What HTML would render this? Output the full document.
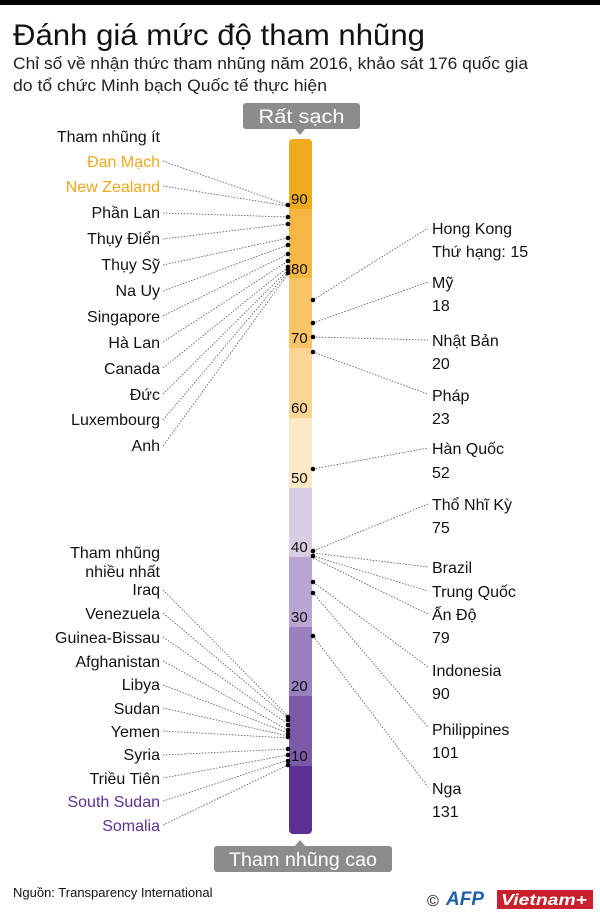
<!DOCTYPE html>
<html><head><meta charset="utf-8"><style>
body{margin:0;background:#fff}
svg{display:block;font-family:"Liberation Sans",sans-serif}
</style></head><body>
<svg width="600" height="918" viewBox="0 0 600 918">
<rect x="0" y="0" width="600" height="5" fill="#000"/>
<text x="13" y="45" font-size="30" fill="#111" textLength="412" lengthAdjust="spacingAndGlyphs">Đánh giá mức độ tham nhũng</text>
<text x="13" y="69" font-size="17" fill="#222" textLength="515" lengthAdjust="spacingAndGlyphs">Chỉ số về nhận thức tham nhũng năm 2016, khảo sát 176 quốc gia</text>
<text x="13" y="91" font-size="17" fill="#222" textLength="314" lengthAdjust="spacingAndGlyphs">do tổ chức Minh bạch Quốc tế thực hiện</text>

<rect x="243" y="103" width="117" height="26" rx="3" fill="#8b8c8e"/>
<polygon points="295,129 305,129 300,135" fill="#8b8c8e"/>
<text x="301.5" y="123" font-size="19" fill="#fff" text-anchor="middle" textLength="86" lengthAdjust="spacingAndGlyphs">Rất sạch</text>

<rect x="289" y="139" width="23" height="80" rx="4" fill="#f0aa1e"/>
<rect x="289" y="209" width="23" height="69" fill="#f5b744"/>
<rect x="289" y="278" width="23" height="70" fill="#f8c466"/>
<rect x="289" y="348" width="23" height="70" fill="#fad594"/>
<rect x="289" y="418" width="23" height="70" fill="#fde8c6"/>
<rect x="289" y="488" width="23" height="69" fill="#d9cde4"/>
<rect x="289" y="557" width="23" height="70" fill="#b9a4d2"/>
<rect x="289" y="627" width="23" height="69" fill="#9a80bf"/>
<rect x="289" y="696" width="23" height="70" fill="#7d5aa9"/>
<rect x="289" y="766" width="23" height="68" rx="4" fill="#5d3192"/>
<rect x="289" y="766" width="23" height="20" fill="#5d3192"/>
<g font-size="15" fill="#111">
<text x="291" y="204">90</text><text x="291" y="274">80</text><text x="291" y="343">70</text>
<text x="291" y="413">60</text><text x="291" y="483">50</text><text x="291" y="552">40</text>
<text x="291" y="622">30</text><text x="291" y="691">20</text><text x="291" y="761">10</text>
</g>

<rect x="214" y="846" width="178" height="26" rx="3" fill="#8b8c8e"/>
<polygon points="294,847 306,847 300,840" fill="#8b8c8e"/>
<text x="303" y="866" font-size="19" fill="#fff" text-anchor="middle" textLength="148" lengthAdjust="spacingAndGlyphs">Tham nhũng cao</text>

<g stroke="#555" stroke-width="0.8" stroke-dasharray="1.5,1.5" fill="none">
<line x1="163" y1="161" x2="288" y2="205"/>
<line x1="163" y1="186" x2="288" y2="206"/>
<line x1="163" y1="213" x2="288" y2="217"/>
<line x1="163" y1="239" x2="288" y2="224"/>
<line x1="163" y1="265" x2="288" y2="238"/>
<line x1="163" y1="291" x2="288" y2="245"/>
<line x1="163" y1="316" x2="288" y2="254"/>
<line x1="163" y1="342" x2="288" y2="261"/>
<line x1="163" y1="368" x2="288" y2="267"/>
<line x1="163" y1="394" x2="288" y2="270"/>
<line x1="163" y1="420" x2="288" y2="272"/>
<line x1="163" y1="446" x2="288" y2="274"/>

<line x1="163" y1="590" x2="288" y2="716"/>
<line x1="163" y1="613" x2="288" y2="718"/>
<line x1="163" y1="637" x2="288" y2="724"/>
<line x1="163" y1="661" x2="288" y2="730"/>
<line x1="163" y1="685" x2="288" y2="733"/>
<line x1="163" y1="708" x2="288" y2="736"/>
<line x1="163" y1="731" x2="288" y2="738"/>
<line x1="163" y1="755" x2="288" y2="749"/>
<line x1="163" y1="778" x2="288" y2="755"/>
<line x1="163" y1="801" x2="288" y2="760"/>
<line x1="163" y1="825" x2="288" y2="765"/>

<line x1="313" y1="300" x2="428" y2="228"/>
<line x1="313" y1="323" x2="428" y2="282"/>
<line x1="313" y1="337" x2="428" y2="340"/>
<line x1="313" y1="352" x2="428" y2="394"/>
<line x1="313" y1="469" x2="428" y2="448"/>
<line x1="313" y1="551" x2="428" y2="504"/>
<line x1="313" y1="553" x2="428" y2="567"/>
<line x1="313" y1="556" x2="428" y2="591"/>
<line x1="313" y1="558" x2="428" y2="614"/>
<line x1="313" y1="582" x2="428" y2="667"/>
<line x1="313" y1="593" x2="428" y2="727"/>
<line x1="313" y1="636" x2="428" y2="787"/>
</g>
<g fill="#000">
<circle cx="288" cy="205" r="2.3"/><circle cx="288" cy="217" r="2.3"/><circle cx="288" cy="224" r="2.3"/>
<circle cx="288" cy="238" r="2.3"/><circle cx="288" cy="245" r="2.3"/><circle cx="288" cy="254" r="2.3"/>
<circle cx="288" cy="261" r="2.3"/><circle cx="288" cy="267" r="2.3"/><circle cx="288" cy="270" r="2.3"/><circle cx="288" cy="273" r="2.3"/>
<circle cx="288" cy="717" r="2.3"/><circle cx="288" cy="720" r="2.3"/><circle cx="288" cy="725" r="2.3"/><circle cx="288" cy="730" r="2.3"/>
<circle cx="288" cy="734" r="2.3"/><circle cx="288" cy="737" r="2.3"/><circle cx="288" cy="749" r="2.3"/><circle cx="288" cy="755" r="2.3"/>
<circle cx="288" cy="761" r="2.3"/><circle cx="288" cy="765" r="2.3"/>
<circle cx="313" cy="300" r="2.3"/><circle cx="313" cy="323" r="2.3"/><circle cx="313" cy="337" r="2.3"/><circle cx="313" cy="352" r="2.3"/>
<circle cx="313" cy="469" r="2.3"/><circle cx="313" cy="551" r="2.3"/><circle cx="313" cy="556" r="2.3"/>
<circle cx="313" cy="582" r="2.3"/><circle cx="313" cy="593" r="2.3"/><circle cx="313" cy="636" r="2.3"/>
</g>

<g font-size="16" fill="#111" text-anchor="end">
<text x="160" y="142">Tham nhũng ít</text>
<text x="160" y="167" fill="#f0a81c">Đan Mạch</text>
<text x="160" y="192" fill="#f0a81c">New Zealand</text>
<text x="160" y="218">Phần Lan</text>
<text x="160" y="244">Thụy Điển</text>
<text x="160" y="270">Thụy Sỹ</text>
<text x="160" y="296">Na Uy</text>
<text x="160" y="322">Singapore</text>
<text x="160" y="348">Hà Lan</text>
<text x="160" y="374">Canada</text>
<text x="160" y="400">Đức</text>
<text x="160" y="425">Luxembourg</text>
<text x="160" y="451">Anh</text>

<text x="160" y="558">Tham nhũng</text>
<text x="160" y="577">nhiều nhất</text>
<text x="160" y="595">Iraq</text>
<text x="160" y="619">Venezuela</text>
<text x="160" y="643">Guinea-Bissau</text>
<text x="160" y="667">Afghanistan</text>
<text x="160" y="690">Libya</text>
<text x="160" y="714">Sudan</text>
<text x="160" y="737">Yemen</text>
<text x="160" y="760">Syria</text>
<text x="160" y="784">Triều Tiên</text>
<text x="160" y="807" fill="#5d3192">South Sudan</text>
<text x="160" y="831" fill="#5d3192">Somalia</text>
</g>

<g font-size="16" fill="#111">
<text x="432" y="234">Hong Kong</text><text x="432" y="257">Thứ hạng: 15</text>
<text x="432" y="288">Mỹ</text><text x="432" y="311">18</text>
<text x="432" y="346">Nhật Bản</text><text x="432" y="369">20</text>
<text x="432" y="401">Pháp</text><text x="432" y="424">23</text>
<text x="432" y="454">Hàn Quốc</text><text x="432" y="478">52</text>
<text x="432" y="510">Thổ Nhĩ Kỳ</text><text x="432" y="533">75</text>
<text x="432" y="573">Brazil</text>
<text x="432" y="597">Trung Quốc</text>
<text x="432" y="620">Ấn Độ</text><text x="432" y="643">79</text>
<text x="432" y="676">Indonesia</text><text x="432" y="699">90</text>
<text x="432" y="735">Philippines</text><text x="432" y="758">101</text>
<text x="432" y="794">Nga</text><text x="432" y="817">131</text>
</g>

<text x="13" y="897" font-size="13" fill="#111">Nguồn: Transparency International</text>
<text x="427" y="906" font-size="16" fill="#111">©</text>
<text x="446" y="905" font-size="19" font-weight="bold" font-style="italic" fill="#1f5fae">AFP</text>
<rect x="497" y="890" width="96" height="19" fill="#c8202c"/>
<text x="501" y="905" font-size="16" font-weight="bold" font-style="italic" fill="#fff" textLength="86" lengthAdjust="spacingAndGlyphs">Vietnam+</text>
</svg>
</body></html>
